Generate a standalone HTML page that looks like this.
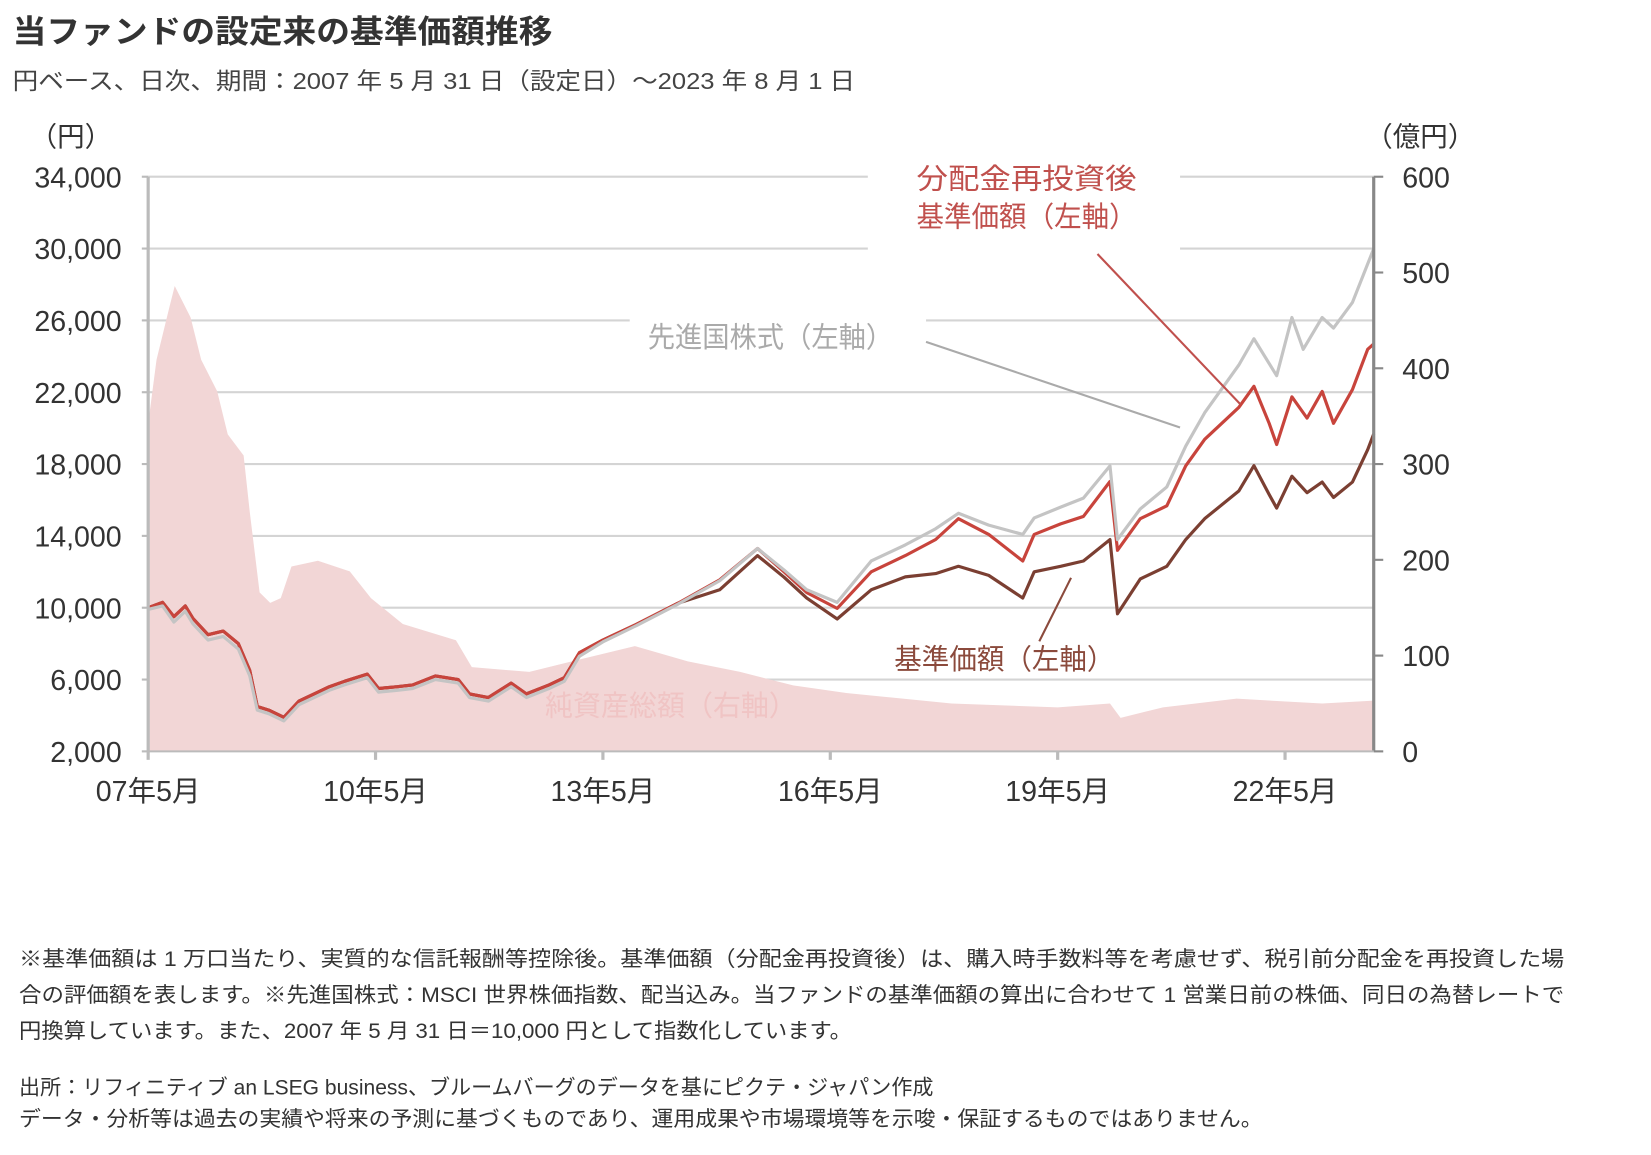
<!DOCTYPE html>
<html><head><meta charset="utf-8">
<style>
html,body{margin:0;padding:0;background:#fff;}
svg{display:block;}
text{font-family:"Liberation Sans","Noto Sans CJK JP",sans-serif;}
</style></head>
<body>
<svg id="chart" width="1651" height="1155" viewBox="0 0 1560 1091.4" preserveAspectRatio="none" xmlns="http://www.w3.org/2000/svg">
<text x="12" y="40" font-size="30" font-weight="bold" fill="#333" textLength="510" lengthAdjust="spacingAndGlyphs">当ファンドの設定来の基準価額推移</text>
<text x="12" y="84" font-size="22" fill="#444" textLength="796" lengthAdjust="spacingAndGlyphs">円ベース、日次、期間：2007 年 5 月 31 日（設定日）～2023 年 8 月 1 日</text>
<text x="28" y="138" font-size="26" fill="#333">（円）</text>
<text x="1290" y="138" font-size="26" fill="#333">（億円）</text>
<g id="grid"></g>
<g id="area"></g>
<g id="masks"></g>
<g id="lines"></g>
<g id="axes"></g>
<g id="labels">
<text x="866" y="178" font-size="27" fill="#c0504d" textLength="208" lengthAdjust="spacingAndGlyphs">分配金再投資後</text>
<text x="866" y="214" font-size="27" fill="#c0504d" textLength="208" lengthAdjust="spacingAndGlyphs">基準価額（左軸）</text>
<line x1="1037" y1="240" x2="1172" y2="382" stroke="#c0504d" stroke-width="2"/>
<text x="612" y="328" font-size="27" fill="#aaa" textLength="232" lengthAdjust="spacingAndGlyphs">先進国株式（左軸）</text>
<line x1="875" y1="323" x2="1115" y2="404" stroke="#aaa" stroke-width="2"/>
<text x="845" y="632" font-size="27" fill="#8b4a3c" textLength="208" lengthAdjust="spacingAndGlyphs">基準価額（左軸）</text>
<line x1="982" y1="606" x2="1012" y2="546" stroke="#8b4a3c" stroke-width="2"/>
<text x="515" y="676" font-size="27" fill="#f0c4c4" textLength="238" lengthAdjust="spacingAndGlyphs">純資産総額（右軸）</text>
</g>
<g font-size="20" fill="#333">
<text x="18" y="913" textLength="1460" lengthAdjust="spacingAndGlyphs">※基準価額は 1 万口当たり、実質的な信託報酬等控除後。基準価額（分配金再投資後）は、購入時手数料等を考慮せず、税引前分配金を再投資した場</text>
<text x="18" y="947" textLength="1460" lengthAdjust="spacingAndGlyphs">合の評価額を表します。※先進国株式：MSCI 世界株価指数、配当込み。当ファンドの基準価額の算出に合わせて 1 営業日前の株価、同日の為替レートで</text>
<text x="18" y="981" textLength="787" lengthAdjust="spacingAndGlyphs">円換算しています。また、2007 年 5 月 31 日＝10,000 円として指数化しています。</text>
<text x="18" y="1034" textLength="864" lengthAdjust="spacingAndGlyphs">出所：リフィニティブ  an LSEG business、ブルームバーグのデータを基にピクテ・ジャパン作成</text>
<text x="18" y="1064" textLength="1175" lengthAdjust="spacingAndGlyphs">データ・分析等は過去の実績や将来の予測に基づくものであり、運用成果や市場環境等を示唆・保証するものではありません。</text>
</g>
</svg>
<script>
const leftTicks = [2000,6000,10000,14000,18000,22000,26000,30000,34000];
const rightTicks = [0,100,200,300,400,500,600];
const xTickLabels = ["07年5月","10年5月","13年5月","16年5月","19年5月","22年5月"];
const xTickYears = [2007.41,2010.41,2013.41,2016.41,2019.41,2022.41];
const redT = [2007.41,2007.6,2007.75,2007.9,2008.0,2008.2,2008.4,2008.6,2008.75,2008.85,2009.0,2009.2,2009.4,2009.6,2009.8,2010.0,2010.3,2010.45,2010.7,2010.9,2011.2,2011.5,2011.65,2011.9,2012.2,2012.4,2012.7,2012.9,2013.1,2013.41,2013.85,2014.4,2014.95,2015.45,2015.8,2016.1,2016.5,2016.95,2017.4,2017.8,2018.1,2018.5,2018.95,2019.1,2019.45,2019.75,2020.1,2020.2,2020.5,2020.85,2021.1,2021.35,2021.8,2022.0,2022.2,2022.3,2022.5,2022.7,2022.9,2023.05,2023.3,2023.5,2023.58];
const redV = [10000,10300,9500,10100,9400,8500,8700,8000,6500,4500,4300,3900,4800,5200,5600,5900,6300,5500,5600,5700,6200,6000,5200,5000,5800,5200,5700,6100,7500,8200,9070,10250,11550,13300,12000,10840,9960,12000,12900,13800,14960,14080,12600,14080,14670,15080,17030,13200,14960,15670,17900,19380,21150,22330,20270,19090,21740,20560,22040,20270,22150,24390,24690];
const grayT = [2007.41,2007.6,2007.75,2007.9,2008.0,2008.2,2008.4,2008.6,2008.75,2008.85,2009.0,2009.2,2009.4,2009.6,2009.8,2010.0,2010.3,2010.45,2010.7,2010.9,2011.2,2011.5,2011.65,2011.9,2012.2,2012.4,2012.7,2012.9,2013.1,2013.41,2013.85,2014.4,2014.95,2015.45,2015.8,2016.1,2016.5,2016.95,2017.4,2017.8,2018.1,2018.5,2018.95,2019.1,2019.45,2019.75,2020.1,2020.2,2020.5,2020.85,2021.1,2021.35,2021.8,2022.0,2022.3,2022.5,2022.65,2022.9,2023.05,2023.3,2023.58];
const grayV = [9900,10100,9200,9800,9100,8200,8400,7700,6200,4300,4100,3700,4600,5000,5400,5700,6100,5300,5400,5500,6000,5800,5000,4800,5600,5000,5500,5900,7300,8100,9000,10200,11500,13300,12100,11000,10300,12600,13500,14400,15260,14600,14080,15000,15600,16100,17900,13790,15500,16730,19000,20860,23510,24980,22920,26160,24390,26160,25570,27000,29990];
const brownT = [2007.41,2007.6,2007.75,2007.9,2008.0,2008.2,2008.4,2008.6,2008.75,2008.85,2009.0,2009.2,2009.4,2009.6,2009.8,2010.0,2010.3,2010.45,2010.7,2010.9,2011.2,2011.5,2011.65,2011.9,2012.2,2012.4,2012.7,2012.9,2013.1,2013.41,2013.85,2014.4,2014.95,2015.45,2015.8,2016.1,2016.5,2016.95,2017.4,2017.8,2018.1,2018.5,2018.95,2019.1,2019.45,2019.75,2020.1,2020.2,2020.5,2020.85,2021.1,2021.35,2021.8,2022.0,2022.2,2022.3,2022.5,2022.7,2022.9,2023.05,2023.3,2023.5,2023.58];
const brownV = [10000,10300,9500,10100,9400,8500,8700,8000,6500,4500,4300,3900,4800,5200,5600,5900,6300,5500,5600,5700,6200,6000,5200,5000,5800,5200,5700,6100,7500,8200,9070,10250,11000,12900,11700,10540,9370,11000,11720,11900,12310,11800,10540,12000,12310,12600,13790,9660,11600,12310,13800,14960,16500,17910,16300,15550,17320,16400,17000,16140,17000,18800,19680];
const navT = [2007.41,2007.52,2007.69,2007.76,2007.97,2008.11,2008.32,2008.46,2008.67,2008.75,2008.88,2009.02,2009.16,2009.3,2009.65,2010.07,2010.35,2010.77,2011.47,2011.68,2012.44,2013.0,2013.83,2014.53,2015.22,2015.92,2016.62,2018.01,2019.41,2020.1,2020.24,2020.8,2021.77,2022.9,2023.58];
const navV = [342,409,464,486,453,409,376,331,309,250,166,155,160,193,199,188,160,133,116,88,83,94,110,94,83,69,61,50,46,50,35,46,55,50,53];

const X0=140, X1=1298, Y0=710, Y1=167, T0=2007.41, T1=2023.58;
function xs(t){return X0+(t-T0)/(T1-T0)*(X1-X0);}
function yl(v){return Y0-(v-2000)/(34000-2000)*(Y0-Y1);}
function yr(v){return Y0-v/600*(Y0-Y1);}
const NS="http://www.w3.org/2000/svg";
function mk(tag,attrs,parent){const e=document.createElementNS(NS,tag);for(const k in attrs)e.setAttribute(k,attrs[k]);parent.appendChild(e);return e;}
const grid=document.getElementById('grid'), area=document.getElementById('area'), lines=document.getElementById('lines'), axes=document.getElementById('axes'), masks=document.getElementById('masks');

leftTicks.forEach(v=>{
  if(v>2000){
    const g=mk('line',{x1:X0,x2:X1,y1:yl(v),y2:yl(v),stroke:'#d4d4d4','stroke-width':2},grid);
    
    
  }
  const t=mk('text',{x:115,y:yl(v)+10,'text-anchor':'end','font-size':27,fill:'#333'},axes);
  t.textContent=v.toLocaleString('en-US');
  
  
  const tk=mk('line',{x1:X0-6,x2:X0,y1:yl(v),y2:yl(v),stroke:'#bbb','stroke-width':2},axes);
  
  
});
rightTicks.forEach(v=>{
  const t=mk('text',{x:1325,y:yr(v)+10,'font-size':27,fill:'#333'},axes);
  t.textContent=v;
  
  
  const tk=mk('line',{x1:X1,x2:X1+9,y1:yr(v),y2:yr(v),stroke:'#888','stroke-width':2},axes);
  
  
});
[[820,150,295,95],[595,290,280,50]].forEach(r=>{
  const m=mk('rect',{x:r[0],y:r[1],width:r[2],height:r[3],fill:'#fff'},masks);
  
  
});
let d='M'+xs(navT[0])+','+yr(0);
navT.forEach((t,i)=>{d+=' L'+xs(t).toFixed(1)+','+yr(navV[i]).toFixed(1);});
d+=' L'+xs(navT[navT.length-1])+','+yr(0)+' Z';
const ar=mk('path',{d:d,fill:'#f2d6d6'},area);


function line(T,V,color,name){
  let p='';T.forEach((t,i)=>{p+=(i?' L':'M')+xs(t).toFixed(1)+','+yl(V[i]).toFixed(1);});
  const l=mk('path',{d:p,fill:'none',stroke:color,'stroke-width':3,'stroke-linejoin':'round'},lines);
  
  
}
line(brownT,brownV,'#7b3f32','nav-line');
line(redT,redV,'#c8443c','reinvested-nav-line');
line(grayT,grayV,'#c4c4c4','msci-line');
const la=mk('line',{x1:X0,x2:X0,y1:Y1,y2:Y0,stroke:'#bbb','stroke-width':3},axes);


const ra=mk('line',{x1:X1,x2:X1,y1:Y1,y2:Y0,stroke:'#888','stroke-width':3},axes);


const ba=mk('line',{x1:X0,x2:X1,y1:Y0,y2:Y0,stroke:'#bbb','stroke-width':2},axes);


xTickYears.forEach((t,i)=>{
  const tk=mk('line',{x1:xs(t),x2:xs(t),y1:Y0,y2:Y0+8,stroke:'#bbb','stroke-width':3},axes);
  
  
  const tx=mk('text',{x:xs(t),y:757,'text-anchor':'middle','font-size':27,fill:'#333'},axes);
  tx.textContent=xTickLabels[i];
  
  
});
</script>
</body></html>
